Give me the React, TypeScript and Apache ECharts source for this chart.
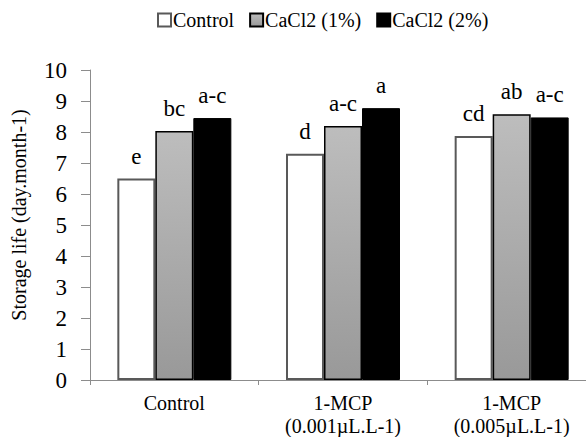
import React, { useEffect, useRef } from "react";
import * as echarts from "echarts";

const categories = ["Control", "1-MCP\n(0.001µL.L-1)", "1-MCP\n(0.005µL.L-1)"];
const seriesNames = ["Control", "CaCl2 (1%)", "CaCl2 (2%)"];
const controlValues = [6.5, 7.3, 7.87];
const cacl1Values = [8.03, 8.19, 8.57];
const cacl2Values = [8.45, 8.77, 8.47];
const controlLetters = ["e", "d", "cd"];
const cacl1Letters = ["bc", "a-c", "ab"];
const cacl2Letters = ["a-c", "a", "a-c"];
const yTicks = [0, 10, 1];

const FONT = "'Liberation Serif', 'Times New Roman', serif";

export default function App() {
  const ref = useRef<HTMLDivElement>(null);
  useEffect(() => {
    if (!ref.current) return;
    const chart = echarts.init(ref.current, undefined, { renderer: "svg" });
    const grayGrad = new echarts.graphic.LinearGradient(0, 0, 0, 1, [
      { offset: 0, color: "#bdbdbd" },
      { offset: 1, color: "#999999" },
    ]);
    const mkLabel = (letters: string[]) => ({
      show: true,
      position: "top" as const,
      distance: 11,
      fontFamily: FONT,
      fontSize: 23,
      color: "#000",
      formatter: (p: any) => letters[p.dataIndex],
    });
    chart.setOption({
      animation: false,
      textStyle: { fontFamily: FONT },
      legend: {
        left: 152,
        top: 5,
        itemWidth: 13,
        itemHeight: 13,
        itemGap: 15,
        icon: "rect",
        textStyle: { fontFamily: FONT, fontSize: 20, color: "#000", padding: [0, 0, 0, -3] },
        data: seriesNames,
      },
      grid: { left: 90, right: -10, top: 70, bottom: 57, containLabel: false, outerBoundsMode: "none" },
      xAxis: {
        type: "category",
        data: categories,
        axisLine: { lineStyle: { color: "#8c8c8c", width: 1 } },
        axisTick: { show: true, length: 5, lineStyle: { color: "#8c8c8c" } },
        axisLabel: {
          fontFamily: FONT,
          fontSize: 20,
          color: "#000",
          lineHeight: 23,
          margin: 11,
        },
      },
      yAxis: {
        type: "value",
        min: yTicks[0],
        max: yTicks[1],
        interval: yTicks[2],
        name: "Storage life (day.month-1)",
        nameLocation: "middle",
        nameRotate: 90,
        nameGap: 61,
        nameTextStyle: { fontFamily: FONT, fontSize: 20, color: "#000", padding: [0, 0, 0, 20] },
        axisLine: { show: true, lineStyle: { color: "#8c8c8c", width: 1 } },
        axisTick: { show: true, length: 9, lineStyle: { color: "#8c8c8c" } },
        splitLine: { show: false },
        axisLabel: { fontFamily: FONT, fontSize: 23, color: "#000", margin: 23 },
      },
      series: [
        {
          name: seriesNames[0],
          type: "bar",
          data: controlValues,
          barWidth: 38,
          barGap: "0%",
          itemStyle: { color: "#ffffff", borderColor: "#595959", borderWidth: 2 },
          label: mkLabel(controlLetters),
        },
        {
          name: seriesNames[1],
          type: "bar",
          data: cacl1Values,
          barWidth: 38,
          barGap: "0%",
          itemStyle: { color: grayGrad, borderColor: "#000", borderWidth: 1.5 },
          label: mkLabel(cacl1Letters),
        },
        {
          name: seriesNames[2],
          type: "bar",
          data: cacl2Values,
          barWidth: 38,
          barGap: "0%",
          itemStyle: { color: "#000000", borderColor: "#000", borderWidth: 1 },
          label: mkLabel(cacl2Letters),
        },
      ],
    });
    return () => chart.dispose();
  }, []);
  return <div ref={ref} style={{ width: 586, height: 437, position: "absolute", left: 0, top: 0 }} />;
}
